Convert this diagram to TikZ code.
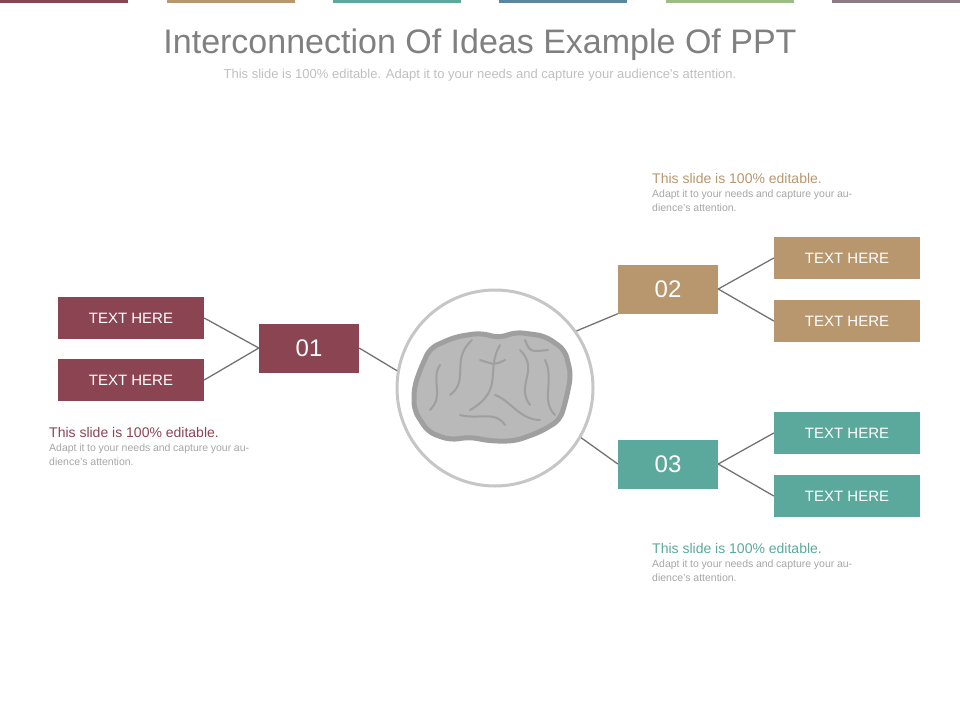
\documentclass[tikz,border=0pt]{standalone}
\usepackage{fontspec}
\setmainfont{Liberation Sans}
\usetikzlibrary{positioning}
\definecolor{cred}{HTML}{8B4452}
\definecolor{ctan}{HTML}{B8976E}
\definecolor{cteal}{HTML}{5BA89C}
\definecolor{cblue}{HTML}{5B86A0}
\definecolor{cgreen}{HTML}{9CBE84}
\definecolor{cmauve}{HTML}{8E7C85}
\tikzset{
  smallbox/.style={minimum width=146pt, minimum height=42pt, inner sep=0pt, text=white, font=\fontsize{15}{15}\selectfont},
  numbox/.style={minimum width=100pt, minimum height=49pt, inner sep=0pt, text=white, font=\fontsize{24}{24}\selectfont},
  link/.style={draw=gray!90!black, line width=1.3pt},
  note/.style={anchor=north west, text width=200pt, align=justify, inner sep=0pt, font=\fontsize{10.5}{14}\selectfont, text=gray!70}
}
\begin{document}
\begin{tikzpicture}[x=1pt, y=-1pt]
    \useasboundingbox (0,0) rectangle (960,720);

    % Top colour bars
    \fill[cred] (0,0) rectangle (128,3);
    \fill[ctan] (167,0) rectangle (295,3);
    \fill[cteal] (333,0) rectangle (461,3);
    \fill[cblue] (499,0) rectangle (627,3);
    \fill[cgreen] (666,0) rectangle (794,3);
    \fill[cmauve] (832,0) rectangle (960,3);

    \node[text=gray, font=\fontsize{34}{34}\selectfont] (title) at (480,45) {Interconnection Of Ideas Example Of PPT};
    \node[text=gray!50, font=\fontsize{13}{13}\selectfont] (sub) at (480,75) {This slide is 100\% editable. Adapt it to your needs and capture your audience's attention.};

    % Centre
    \node[circle, draw=gray!45, line width=3pt, minimum size=196pt] (hub) at (495,388) {};
    \fill[gray!55, draw=gray!75, line width=5pt, rounded corners=8pt]
      (420,370) -- (430,348) -- (455,337) -- (480,333) -- (500,338) -- (515,332) -- (545,336) -- (565,350)
      -- (571,375) -- (566,400) -- (560,420) -- (540,432) -- (515,441) -- (490,441) -- (470,437)
      -- (450,440) -- (428,432) -- (414,410) -- (414,388) -- cycle;
    \draw[gray!75, line width=2pt, line cap=round]
      (472,340) .. controls (450,360) and (470,380) .. (450,395)
      (500,345) .. controls (485,370) and (505,390) .. (470,410)
      (520,350) .. controls (540,370) and (515,385) .. (530,405)
      (545,360) .. controls (555,380) and (540,400) .. (555,415)
      (440,365) .. controls (430,380) and (445,395) .. (430,410)
      (460,415) .. controls (480,420) and (495,410) .. (505,425)
      (495,395) .. controls (510,400) and (520,420) .. (540,420)
      (480,360) .. controls (495,365) .. (505,360)
      (525,340) .. controls (530,352) .. (548,350);

    % Left branch
    \node[numbox, fill=cred] (n1) at (309,348) {01};
    \node[smallbox, fill=cred] (l1) at (131,318) {TEXT HERE};
    \node[smallbox, fill=cred] (l2) at (131,380) {TEXT HERE};
    \draw[link] (l1.east) -- (n1.west);
    \draw[link] (l2.east) -- (n1.west);
    \draw[link] (n1.east) -- (hub.170);

    % Right branches
    \node[numbox, fill=ctan] (n2) at (668,289) {02};
    \node[smallbox, fill=ctan] (r1) at (847,258) {TEXT HERE};
    \node[smallbox, fill=ctan] (r2) at (847,321) {TEXT HERE};
    \draw[link] (n2.east) -- (r1.west);
    \draw[link] (n2.east) -- (r2.west);
    \draw[link] (hub.35) -- (n2.south west);

    \node[numbox, fill=cteal] (n3) at (668,464) {03};
    \node[smallbox, fill=cteal] (r3) at (847,433) {TEXT HERE};
    \node[smallbox, fill=cteal] (r4) at (847,496) {TEXT HERE};
    \draw[link] (n3.east) -- (r3.west);
    \draw[link] (n3.east) -- (r4.west);
    \draw[link] (hub.-30) -- (n3.west);

    % Notes
    \node[note] (t1) at (49,427) {{\fontsize{14}{18}\selectfont\color{cred}This slide is 100\% editable.}\\Adapt it to your needs and capture your audience's attention.};
    \node[note] (t2) at (652,173) {{\fontsize{14}{18}\selectfont\color{ctan}This slide is 100\% editable.}\\Adapt it to your needs and capture your audience's attention.};
    \node[note] (t3) at (652,543) {{\fontsize{14}{18}\selectfont\color{cteal}This slide is 100\% editable.}\\Adapt it to your needs and capture your audience's attention.};
\end{tikzpicture}
\end{document}
